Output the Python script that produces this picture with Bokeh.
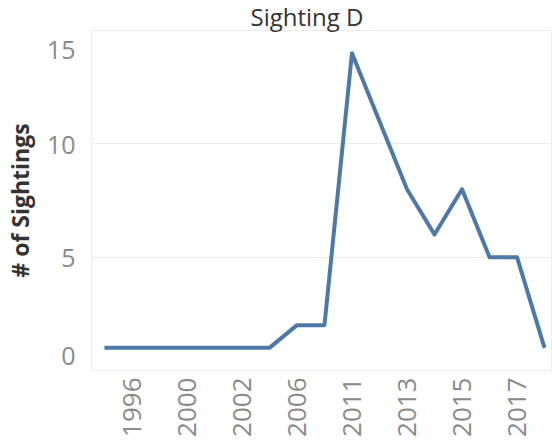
from bokeh.plotting import figure
from bokeh.models import Range1d, FixedTicker
from bokeh.embed import file_html
from bokeh.resources import INLINE

years = [1995, 1996, 1999, 2000, 2001, 2002, 2004, 2006, 2009,
         2011, 2012, 2013, 2014, 2015, 2016, 2017, 2018]
sightings = [1, 1, 1, 1, 1, 1, 1, 2, 2, 14, 11, 8, 6, 8, 5, 5, 1]
shown_years = [1996, 2000, 2002, 2006, 2011, 2013, 2015, 2017]
y_ticks = [0, 5, 10, 15]
y_grid_ticks = [5, 10]

FONT = "Open Sans"
TICK_COLOR = "#8a8a8a"
GRID = "#ececec"

xs = list(range(len(years)))

p = figure(frame_width=461, frame_height=340, output_backend="svg",
           toolbar_location=None,
           x_range=Range1d(-0.47, 16.29), y_range=Range1d(0, 15),
           min_border_left=83, min_border_right=0, min_border_top=0,
           min_border_bottom=68)
p.background_fill_color = "white"
p.border_fill_color = "white"
p.outline_line_color = GRID

p.line(xs, sightings, line_color="#4e79a7", line_width=4, line_join="round")

# title
p.title.text = "Sighting D"
p.title.align = "left"
p.title.offset = 159
p.title.standoff = -5
p.title.text_font = FONT
p.title.text_font_size = "24px"
p.title.text_font_style = "normal"
p.title.text_color = "#333333"

# x axis
xt = [years.index(y) for y in shown_years]
p.xaxis.ticker = FixedTicker(ticks=xt)
p.xaxis.major_label_overrides = {i: str(years[i]) for i in xt}
p.xaxis.major_label_orientation = 1.5707963
p.xaxis.major_tick_line_color = None
p.xaxis.minor_tick_line_color = None
p.xaxis.axis_line_color = GRID
p.xaxis.major_label_standoff = 1
p.xaxis.major_label_text_font = FONT
p.xaxis.major_label_text_font_size = "26px"
p.xaxis.major_label_text_color = TICK_COLOR
p.xgrid.grid_line_color = None

# y axis (edge labels nudged inward, as in the original)
p.yaxis.ticker = FixedTicker(ticks=y_ticks)
p.yaxis.major_label_overrides = {0: "0\n", 15: "\n15"}
p.yaxis.major_label_text_line_height = 0.94
p.yaxis.major_tick_line_color = None
p.yaxis.minor_tick_line_color = None
p.yaxis.axis_line_color = GRID
p.yaxis.major_label_standoff = 10
p.yaxis.major_label_text_font = FONT
p.yaxis.major_label_text_font_size = "25px"
p.yaxis.major_label_text_color = TICK_COLOR
p.yaxis.axis_label = "# of Sightings"
p.yaxis.axis_label_text_font = FONT
p.yaxis.axis_label_text_font_style = "bold"
p.yaxis.axis_label_text_font_size = "23px"
p.yaxis.axis_label_text_color = "#333333"
p.yaxis.axis_label_standoff = 8
p.ygrid.ticker = FixedTicker(ticks=y_grid_ticks)
p.ygrid.grid_line_color = GRID

open("out.html", "w").write(file_html(p, INLINE))
